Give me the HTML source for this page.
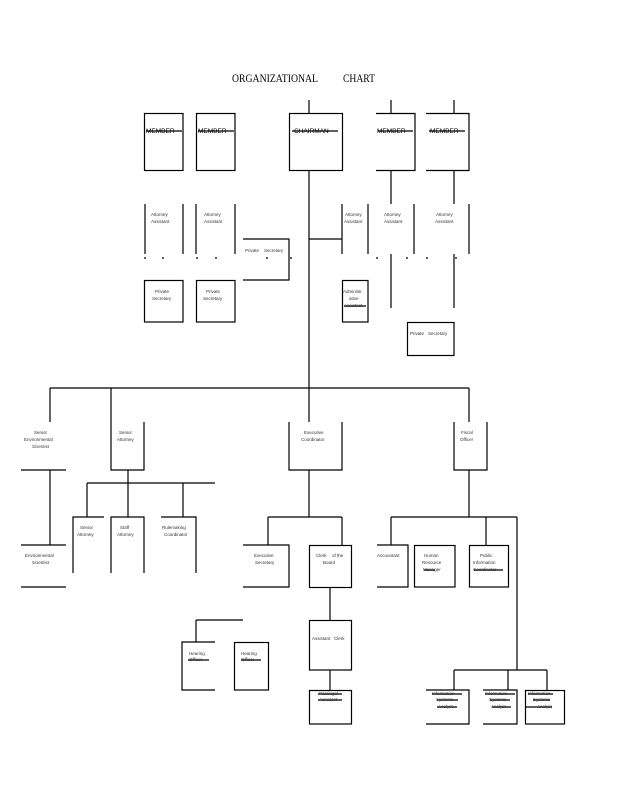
<!DOCTYPE html>
<html><head><meta charset="utf-8"><style>
html,body{margin:0;padding:0;background:#fff;}
svg{display:block;}
text{font-family:"Liberation Sans",sans-serif;font-size:4.5px;fill:#333;}
.t{font-family:"Liberation Serif",serif;font-size:11.5px;fill:#000;}
.m{font-size:6.5px;fill:#000;}
</style></head><body>
<svg width="618" height="800" viewBox="0 0 618 800" xmlns="http://www.w3.org/2000/svg">
<text class="t" x="232" y="82" textLength="86" lengthAdjust="spacingAndGlyphs">ORGANIZATIONAL</text>
<text class="t" x="343" y="82" textLength="32" lengthAdjust="spacingAndGlyphs">CHART</text>
<g stroke="#000" stroke-width="1.2" fill="none">
<path d="M309 100V113M391 100V113M454 100V113"/>
<rect x="144.5" y="113.5" width="38.5" height="57"/>
<rect x="196.5" y="113.5" width="38.5" height="57"/>
<rect x="289.5" y="113.5" width="53" height="57"/>
<path d="M376 113.5H415V170.5H376M426 113.5H469V170.5H426"/>
<path d="M146 131H182M198 131H234M292 131H338M378 131H413M429 131H465"/>
<path d="M309 170V388M309 239H342"/>
<path d="M391 170V204M454 170V204M391 254V308M454 254V308"/>
<path d="M145 204V254M183 204V254M196 204V254M235 204V254M342 204V254M368 204V254M414 204V254M469 204V254"/>
<path d="M144 258H146M162 258H164M196 258H198M215 258H217M266 258H268M290 258H292M376 258H378M406 258H408M426 258H428M455 258H457"/>
<path d="M243 239H289V280H243"/>
<rect x="144.5" y="280.5" width="38.5" height="41.5"/>
<rect x="196.5" y="280.5" width="38.5" height="41.5"/>
<rect x="342.5" y="280.5" width="25.5" height="41.5"/>
<path d="M344 306H366"/>
<rect x="407.5" y="322.5" width="46.5" height="33"/>
<path d="M50 388H469M50 388V422M111 388V422M309 388V422M469 388V422"/>
<path d="M21 470H66M50 470V545M21 545H66M21 587H66"/>
<path d="M111 422V470H144V422M128 470V483M87 483H215M87 483V517M128 483V517M183 483V517"/>
<path d="M73 573V517H104M111 573V517H144V573M161 517H196V573"/>
<path d="M289 422V470H342V422M309 470V517M268 517H342M268 517V545M342 517V545"/>
<path d="M243 545H289V587H243"/>
<rect x="309.5" y="545.5" width="42" height="42"/>
<path d="M330 587V620"/>
<rect x="309.5" y="620.5" width="42" height="49.5"/>
<path d="M330 670V690"/>
<rect x="309.5" y="690.5" width="42" height="33.5"/>
<path d="M318 694H342M318 700H342"/>
<path d="M196 620H243M196 620V642M215 642H182V690H215"/>
<rect x="234.5" y="642.5" width="34" height="47.5"/>
<path d="M188 660H209M241 660H261"/>
<path d="M454 422V470H487V422M469 470V517M391 517H517M391 517V545M486 517V545M517 517V670"/>
<path d="M377 545H408V587H377"/>
<rect x="414.5" y="545.5" width="40.5" height="41.5"/>
<rect x="469.5" y="545.5" width="39" height="41.5"/>
<path d="M424 570H435M474 570H503"/>
<path d="M454 670H547M454 670V690M508 670V690M547 670V690"/>
<path d="M426 690H469V724H426M483 690H517V724H483"/>
<rect x="525.5" y="690.5" width="39" height="33.5"/>
<path d="M432 694H462M437 700H458M437 707H457M485 694H515M490 700H510M492 707H511M528 694H553M533 700H550M525 707H552"/>
</g>
<g>
<text class="m" x="146" y="133">MEMBER</text>
<text class="m" x="198" y="133">MEMBER</text>
<text class="m" x="294" y="133">CHAIRMAN</text>
<text class="m" x="377" y="133">MEMBER</text>
<text class="m" x="430" y="133">MEMBER</text>
<text x="151" y="216">Attorney</text><text x="151" y="223">Assistant</text>
<text x="204" y="216">Attorney</text><text x="204" y="223">Assistant</text>
<text x="345" y="216">Attorney</text><text x="344" y="223">Assistant</text>
<text x="384" y="216">Attorney</text><text x="384" y="223">Assistant</text>
<text x="436" y="216">Attorney</text><text x="435" y="223">Assistant</text>
<text x="245" y="252">Private</text><text x="264" y="252">Secretary</text>
<text x="155" y="293">Private</text><text x="152" y="300">Secretary</text>
<text x="206" y="293">Private</text><text x="203" y="300">Secretary</text>
<text x="343" y="293">Administr</text><text x="349" y="300">ative</text><text x="344" y="307">Assistant</text>
<text x="410" y="335">Private</text><text x="428" y="335">Secretary</text>
<text x="34" y="434">Senior</text><text x="24" y="441">Environmental</text><text x="32" y="448">Scientist</text>
<text x="119" y="434">Senior</text><text x="117" y="441">Attorney</text>
<text x="304" y="434">Executive</text><text x="301" y="441">Coordinator</text>
<text x="461" y="434">Fiscal</text><text x="460" y="441">Officer</text>
<text x="80" y="529">Senior</text><text x="77" y="536">Attorney</text>
<text x="120" y="529">Staff</text><text x="117" y="536">Attorney</text>
<text x="162" y="529">Rulemaking</text><text x="164" y="536">Coordinator</text>
<text x="25" y="557">Environmental</text><text x="32" y="564">Scientist</text>
<text x="254" y="557">Executive</text><text x="255" y="564">Secretary</text>
<text x="316" y="557">Clerk</text><text x="332" y="557">of the</text><text x="323" y="564">Board</text>
<text x="377" y="557">Accountant</text>
<text x="424" y="557">Human</text><text x="422" y="564">Resource</text><text x="423" y="571">Manager</text>
<text x="480" y="557">Public</text><text x="473" y="564">Information</text><text x="473" y="571">Coordinator</text>
<text x="189" y="655">Hearing</text><text x="189" y="661">Officer</text>
<text x="241" y="655">Hearing</text><text x="241" y="661">Officer</text>
<text x="312" y="640">Assistant</text><text x="334" y="640">Clerk</text>
<text x="319" y="695">Paralegal</text><text x="319" y="701">Assistant</text>
<text x="432" y="695">Information</text><text x="436" y="701">Systems</text><text x="438" y="708">Analyst</text>
<text x="485" y="695">Information</text><text x="489" y="701">Systems</text><text x="491" y="708">Analyst</text>
<text x="528" y="695">Information</text><text x="533" y="701">Systems</text><text x="537" y="708">Analyst</text>
</g>
</svg>
</body></html>
